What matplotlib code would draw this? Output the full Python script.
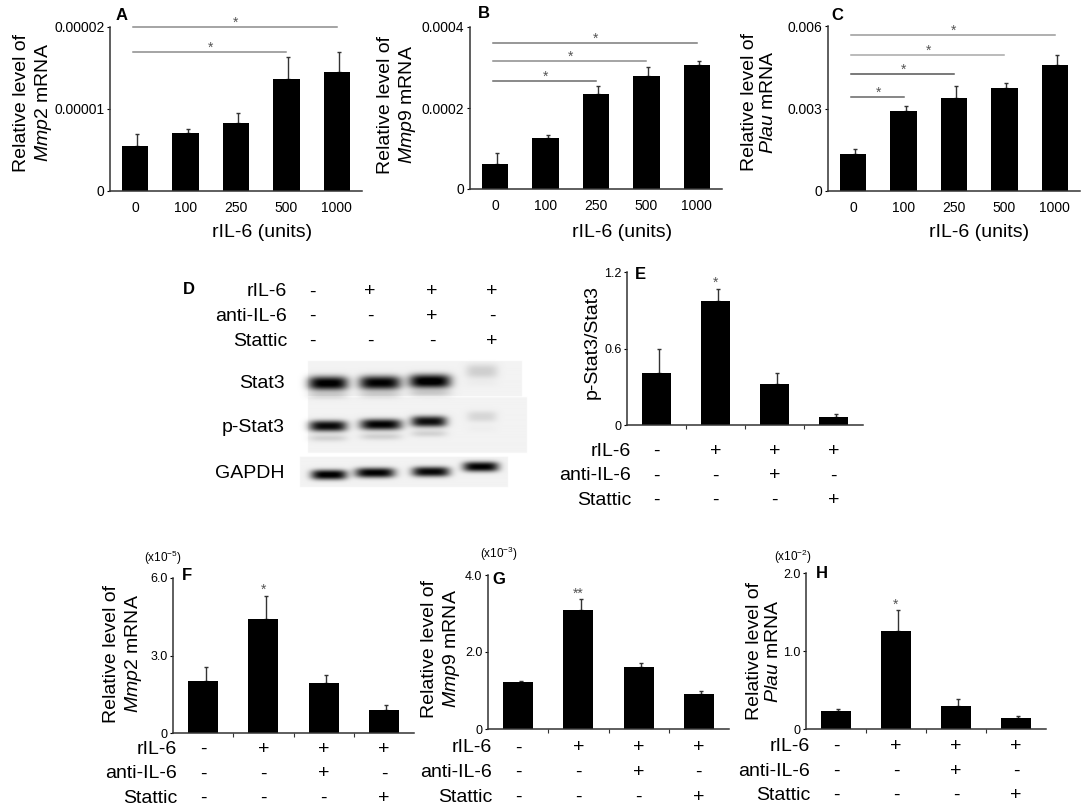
import numpy as np
import matplotlib
matplotlib.use('Agg')
import matplotlib.pyplot as plt

plt.rcParams['font.family'] = ['Liberation Sans', 'DejaVu Sans']
plt.rcParams['mathtext.fontset'] = 'custom'
plt.rcParams['mathtext.rm'] = 'Liberation Sans'
plt.rcParams['mathtext.it'] = 'Liberation Sans:italic'
plt.rcParams['mathtext.bf'] = 'Liberation Sans:bold'

W, H = 1084, 808

# dose response, panels A-C
doses = ['0', '100', '250', '500', '1000']
mmp2_dose = [0.55e-5, 0.71e-5, 0.83e-5, 1.36e-5, 1.45e-5]
mmp2_dose_err = [0.15e-5, 0.04e-5, 0.12e-5, 0.28e-5, 0.25e-5]
mmp9_dose = [0.62e-4, 1.25e-4, 2.35e-4, 2.80e-4, 3.05e-4]
mmp9_dose_err = [0.26e-4, 0.09e-4, 0.19e-4, 0.22e-4, 0.12e-4]
plau_dose = [1.36e-3, 2.90e-3, 3.37e-3, 3.76e-3, 4.60e-3]
plau_dose_err = [0.15e-3, 0.18e-3, 0.44e-3, 0.15e-3, 0.36e-3]

# significance brackets (from group, to group, height)
sig_a = [(0, 4, 2.0e-5), (0, 3, 1.70e-5)]
sig_b = [(0, 4, 3.61e-4), (0, 3, 3.16e-4), (0, 2, 2.67e-4)]
sig_c = [(0, 4, 5.69e-3), (0, 3, 4.96e-3), (0, 2, 4.24e-3), (0, 1, 3.42e-3)]

# treatments, panels D-H
treat_rows = ['rIL-6', 'anti-IL-6', 'Stattic']
treat_signs = [['-', '+', '+', '+'],
               ['-', '-', '+', '-'],
               ['-', '-', '-', '+']]

# western blot band intensities (0 = none, 1 = saturated)
blot_rows = ['Stat3', 'p-Stat3', 'GAPDH']
stat3_band = [0.97, 0.95, 1.0, 0.14]
pstat3_band = [0.92, 0.95, 0.90, 0.11]
gapdh_band = [0.97, 0.95, 0.93, 0.95]

pstat_ratio = [0.41, 0.97, 0.32, 0.06]
pstat_ratio_err = [0.19, 0.10, 0.09, 0.03]
mmp2_tx = [2.02, 4.41, 1.92, 0.88]          # x10^-5
mmp2_tx_err = [0.54, 0.90, 0.32, 0.20]
mmp9_tx = [1.22, 3.08, 1.60, 0.91]          # x10^-3
mmp9_tx_err = [0.03, 0.30, 0.11, 0.09]
plau_tx = [0.23, 1.26, 0.30, 0.14]          # x10^-2
plau_tx_err = [0.03, 0.26, 0.08, 0.03]


def box(l, r, t, b):
    return [l / W, 1 - b / H, (r - l) / W, (b - t) / H]


def ftext(x, y, s, **kw):
    kw.setdefault('fontsize', 14)
    fig.text(x / W, 1 - y / H, s, **kw)


def style(ax):
    for side in ['top', 'right']:
        ax.spines[side].set_visible(False)
    for side in ['left', 'bottom']:
        ax.spines[side].set_color('#333333')
        ax.spines[side].set_linewidth(1.1)


def bars(ax, vals, errs, width):
    x = np.arange(len(vals))
    ax.bar(x, vals, width=width, color='black', zorder=2)
    ax.errorbar(x + 0.04, vals, yerr=[np.zeros(len(errs)), errs], fmt='none',
                ecolor='#333333', elinewidth=1, capsize=1.5, capthick=1, zorder=1)
    ax.set_xlim(-0.5, len(vals) - 0.5)


def star(ax, x, y, s='*', off=4):
    ax.annotate(s, xy=(x, y), xytext=(0, off), textcoords='offset points',
                ha='center', va='center', fontsize=10, color='#555555',
                annotation_clip=False)


fig = plt.figure(figsize=(W / 100, H / 100), dpi=100)

# ---------- A-C ----------
top_panels = [
    (box(110, 362, 27, 191), mmp2_dose, mmp2_dose_err, 2e-5,
     ['0', '0.00001', '0.00002'], sig_a, 'Mmp2', 'A', (122, 15), (34, 103), 262,
     ['#8c8c8c', '#8c8c8c']),
    (box(470, 722, 27, 189), mmp9_dose, mmp9_dose_err, 4e-4,
     ['0', '0.0002', '0.0004'], sig_b, 'Mmp9', 'B', (484, 14), (398, 105), 622,
     ['#7a7a7a', '#8c8c8c', '#6a6a6a']),
    (box(828, 1080, 26, 191), plau_dose, plau_dose_err, 6e-3,
     ['0', '0.003', '0.006'], sig_c, 'Plau', 'C', (837, 15), (759, 102), 979,
     ['#9a9a9a', '#a8a8a8', '#555555', '#666666']),
]

for (rect, vals, errs, ymax, ylabs, sigs, gene, letter, lpos, ypos, xlx,
     scol) in top_panels:
    ax = fig.add_axes(rect)
    style(ax)
    bars(ax, vals, errs, 0.52)
    ax.set_ylim(0, ymax)
    ax.set_yticks([0, ymax / 2, ymax])
    ax.set_yticklabels(ylabs, fontsize=10)
    ax.set_xticks(range(len(doses)))
    ax.set_xticklabels(doses, fontsize=10)
    ax.tick_params(axis='x', length=0, pad=7)
    ax.tick_params(axis='y', length=2, pad=2)
    for (i, j, h), c in zip(sigs, scol):
        ax.plot([i - 0.05, j], [h, h], color=c, lw=1.1, clip_on=False)
        star(ax, (i + j) / 2, h, off=3)
    ftext(lpos[0], lpos[1], letter, fontweight='bold', fontsize=12,
          ha='center', va='center')
    ftext(ypos[0], ypos[1], 'Relative level of\n$\\mathit{' + gene + '}$ mRNA',
          rotation=90, ha='center', va='center', linespacing=1.2)
    ftext(xlx, 233, 'rIL-6 (units)', ha='center', va='center')

# ---------- D: western blot ----------
ftext(189, 289, 'D', fontweight='bold', fontsize=12, ha='center', va='center')
head_cols = [312, 370, 432, 492]
for r, name in enumerate(treat_rows):
    yy = 292 + r * 24.5
    ftext(287, yy, name, ha='right', va='center')
    for cx, s in zip(head_cols, treat_signs[r]):
        ftext(cx, yy, s, ha='center', va='center')

bl, br, bt, bb = 296, 528, 356, 492
axD = fig.add_axes(box(bl, br, bt, bb))
bw, bh = br - bl, bb - bt
xs = np.linspace(0, bw, bw * 3)
ys = np.linspace(0, bh, bh * 3)
X, Y = np.meshgrid(xs, ys)
img = np.ones_like(X)

strip_boxes = [(12, 226, 6, 41), (12, 231, 42, 97), (4, 212, 101, 131)]
for (l, r, t, b) in strip_boxes:
    img[(X >= l) & (X <= r) & (Y >= t) & (Y <= b)] = 0.95

lane_x = [[32, 84, 134, 186], [32, 85, 133, 186], [33, 79, 135, 185]]
lane_y = [[28, 27.5, 26, 16], [70.5, 69, 66, 61], [119, 117, 116, 111]]
lane_wx = [[20, 21, 21, 16], [19, 21, 18, 15], [18, 20, 19, 18]]
lane_wy = [7.0, 5.5, 5.0]
for r, inten in enumerate([stat3_band, pstat3_band, gapdh_band]):
    for i, v in enumerate(inten):
        dx = np.abs(X - lane_x[r][i]) / lane_wx[r][i]
        dy = np.abs(Y - lane_y[r][i]) / lane_wy[r]
        img -= v * np.exp(-dx ** 4) * np.exp(-dy ** 2.5)
        if r < 2:
            dy2 = (Y - lane_y[r][i] - 12) / 3.5
            img -= 0.14 * v * np.exp(-dx ** 4) * np.exp(-dy2 ** 2)
img = np.clip(img, 0, 1)
axD.imshow(img, cmap='gray', vmin=0, vmax=1, extent=(0, bw, bh, 0),
           aspect='auto', interpolation='bilinear')
axD.axis('off')

for name, yy in zip(blot_rows, [383, 427, 473]):
    ftext(285, yy, name, ha='right', va='center')


# ---------- E-H ----------
def sign_rows(ax, first_px, step_px):
    for r, name in enumerate(treat_rows):
        off = -(first_px + r * step_px) * 0.72
        ax.annotate(name, xy=(0, 0), xycoords='axes fraction',
                    xytext=(4 * 0.72, off), textcoords='offset points',
                    ha='right', va='center', fontsize=14, annotation_clip=False)
        for i, s in enumerate(treat_signs[r]):
            ax.annotate(s, xy=(i, 0), xycoords=('data', 'axes fraction'),
                        xytext=(0, off), textcoords='offset points',
                        ha='center', va='center', fontsize=14,
                        annotation_clip=False)


tx_panels = [
    (box(627, 863, 272, 425), pstat_ratio, pstat_ratio_err, 1.2,
     ['0', '0.6', '1.2'], 'E', (640, 274), None, None, (592, 342), 26.5, '*'),
    (box(173, 414, 578, 733), mmp2_tx, mmp2_tx_err, 6.0,
     ['0', '3.0', '6.0'], 'F', (187, 575), 'Mmp2', (163, 558), (124, 654), 16.5, '*'),
    (box(488, 729, 575, 729), mmp9_tx, mmp9_tx_err, 4.0,
     ['0', '2.0', '4.0'], 'G', (499, 579), 'Mmp9', (499, 554), (442, 649), 19, '**'),
    (box(806, 1046, 573, 729), plau_tx, plau_tx_err, 2.0,
     ['0', '1.0', '2.0'], 'H', (822, 574), 'Plau', (793, 557), (764, 651), 17.5, '*'),
]

for (rect, vals, errs, ymax, ylabs, letter, lpos, gene, scale_pos, ypos,
     row0, stars) in tx_panels:
    ax = fig.add_axes(rect)
    style(ax)
    bars(ax, vals, errs, 0.5)
    ax.set_ylim(0, ymax)
    ax.set_yticks([0, ymax / 2, ymax])
    ax.set_yticklabels(ylabs, fontsize=9)
    ax.set_xticks([0.5, 1.5, 2.5])
    ax.set_xticklabels([])
    ax.tick_params(axis='x', length=3, direction='out', color='#333333')
    ax.tick_params(axis='y', length=2, pad=2)
    star(ax, 1, vals[1] + errs[1], stars, off=4)
    sign_rows(ax, row0, 24.5)
    ftext(lpos[0], lpos[1], letter, fontweight='bold', fontsize=12,
          ha='center', va='center')
    if gene is None:
        ftext(ypos[0], ypos[1], 'p-Stat3/Stat3', rotation=90,
              ha='center', va='center')
    else:
        ftext(ypos[0], ypos[1],
              'Relative level of\n$\\mathit{' + gene + '}$ mRNA',
              rotation=90, ha='center', va='center', linespacing=1.2)
    if scale_pos is not None:
        exp = {'F': '-5', 'G': '-3', 'H': '-2'}[letter]
        ftext(scale_pos[0], scale_pos[1], '(x10$^{' + exp + '}$)',
              fontsize=8.5, ha='center', va='center')

fig.savefig('out.png', dpi=100)
